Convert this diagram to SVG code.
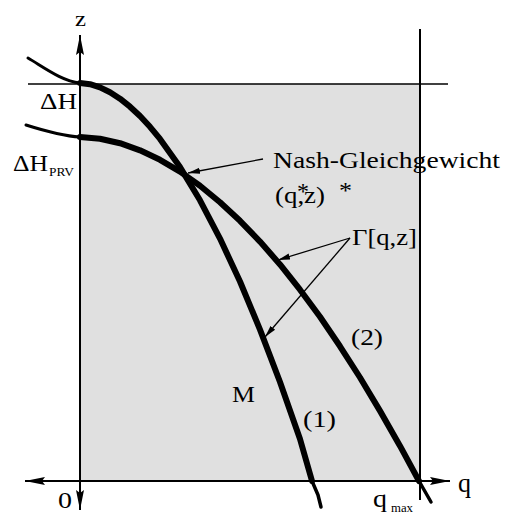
<svg xmlns="http://www.w3.org/2000/svg" width="506" height="515" viewBox="0 0 506 515">
<defs>
<style>
text{font-family:"Liberation Serif","Times New Roman",serif;fill:#000;}
.t{font-size:24px;}
.s{font-size:12px;}
.ln{stroke:#000;fill:none;}
.cv{stroke:#000;fill:none;stroke-linecap:round;stroke-linejoin:round;}
</style>
<marker id="ah" viewBox="0 0 12 8" refX="12" refY="4" markerWidth="12" markerHeight="8" markerUnits="userSpaceOnUse" orient="auto">
<path d="M0,1 L12,4 L0,7 Z" fill="#000"/>
</marker>
<marker id="ax" viewBox="0 0 20 8" refX="20" refY="4" markerWidth="20" markerHeight="8" markerUnits="userSpaceOnUse" orient="auto">
<path d="M0,0 L20,4 L0,8 L3,4 Z" fill="#000"/>
</marker>
</defs>
<rect x="80" y="84" width="340" height="397" fill="#e0e0e0"/>
<g id="frame">
<line class="ln" x1="28" y1="84" x2="448" y2="84" stroke-width="1.5"/>
<line class="ln" x1="420" y1="29" x2="420" y2="500" stroke-width="2"/>
</g>
<g id="axes">
<line class="ln" x1="80" y1="481" x2="80" y2="35" stroke-width="2" marker-end="url(#ax)"/>
<line class="ln" x1="80" y1="481" x2="80" y2="510" stroke-width="2" marker-end="url(#ax)"/>
<line class="ln" x1="80" y1="481" x2="25" y2="481" stroke-width="2" marker-end="url(#ax)"/>
<line class="ln" x1="80" y1="481" x2="450" y2="481" stroke-width="2" marker-end="url(#ax)"/>
</g>
<g id="curve-M">
<path class="cv" stroke-width="3" d="M28,58 C45,68 62,81 80,83"/>
<path class="cv" stroke-width="6" d="M80,83 L90,84.2 L100,87.4 L110,92.3 L120,98.7 L130,106.7 L140,116 L150,126.8 L160,138.9 L180,167.1 L200,200.3 L220,238.6 L240,281.5 L260,329.6 L280,382 L300,439 L312,481"/>
<path class="cv" stroke-width="3.5" d="M312,481 L318,495 L321,507"/>
</g>
<g id="curve-2">
<path class="cv" stroke-width="3" d="M26,125 C45,131 62,136 80,137"/>
<path class="cv" stroke-width="6" d="M80,137 L100,138.7 L120,143.2 L140,150.3 L160,159.8 L180,171.6 L200,185.8 L220,202.3 L240,220.8 L260,241.6 L280,264.4 L300,289.7 L320,316.8 L340,346.3 L360,377.5 L380,410.9 L400,445.9 L419,481"/>
<path class="cv" stroke-width="3.5" d="M419,481 L431,502"/>
</g>
<g id="connectors">
<line class="ln" x1="263" y1="159" x2="188" y2="173" stroke-width="1.3" marker-end="url(#ah)"/>
<line class="ln" x1="350" y1="238" x2="278" y2="260" stroke-width="1.3" marker-end="url(#ah)"/>
<line class="ln" x1="350" y1="238" x2="265" y2="337" stroke-width="1.3" marker-end="url(#ah)"/>
</g>
<g id="labels">
<text class="t" x="75" y="26" style="font-size:22px" textLength="11" lengthAdjust="spacingAndGlyphs">z</text>
<text class="t" x="40" y="109" textLength="37" lengthAdjust="spacingAndGlyphs">ΔH</text>
<text class="t" x="13" y="171" textLength="35" lengthAdjust="spacingAndGlyphs">ΔH</text>
<text class="s" x="49" y="176" textLength="25" lengthAdjust="spacingAndGlyphs">PRV</text>
<text class="t" x="273" y="168" textLength="227" lengthAdjust="spacingAndGlyphs">Nash-Gleichgewicht</text>
<text class="t" x="275" y="203" textLength="50" lengthAdjust="spacingAndGlyphs">(q,z)</text>
<text class="t" x="297" y="199" textLength="12" lengthAdjust="spacingAndGlyphs">*</text>
<text class="t" x="339" y="198" textLength="13" lengthAdjust="spacingAndGlyphs">*</text>
<text class="t" x="352" y="245" textLength="65" lengthAdjust="spacingAndGlyphs">Γ[q,z]</text>
<text class="t" x="351" y="345" textLength="32" lengthAdjust="spacingAndGlyphs">(2)</text>
<text class="t" x="232" y="402" textLength="23" lengthAdjust="spacingAndGlyphs">M</text>
<text class="t" x="303" y="427" textLength="33" lengthAdjust="spacingAndGlyphs">(1)</text>
<text class="t" x="58" y="508" textLength="14" lengthAdjust="spacingAndGlyphs">0</text>
<text class="t" x="458" y="492" style="font-size:28px" textLength="13" lengthAdjust="spacingAndGlyphs">q</text>
<text class="t" x="373" y="507" style="font-size:26px" textLength="14" lengthAdjust="spacingAndGlyphs">q</text>
<text class="s" x="391" y="512" textLength="22" lengthAdjust="spacingAndGlyphs">max</text>
</g>
</svg>
